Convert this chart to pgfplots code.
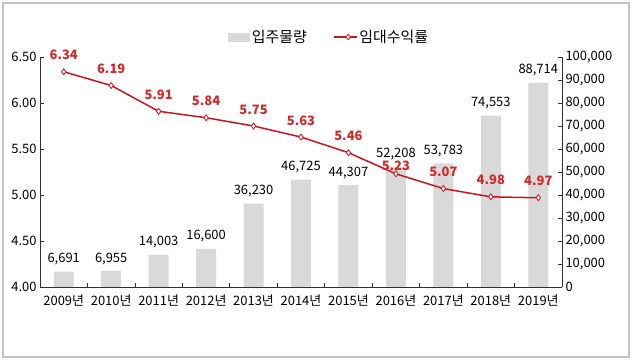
\documentclass[border=0pt]{standalone}
\usepackage{fontspec}
\setmainfont{Noto Sans CJK KR}
\usepackage{pgfplots}
\usepackage{pgfplotstable}
\pgfplotsset{compat=1.18}
\usetikzlibrary{shapes.geometric}
\definecolor{barg}{HTML}{D9D9D9}
\definecolor{linered}{HTML}{C8161E}
\definecolor{labred}{HTML}{D02A2A}
\definecolor{axgray}{HTML}{303030}
\definecolor{framegray}{HTML}{C4C4C4}
\pgfplotstableread{
x y dy
0 6.34 8
1 6.19 8
2 5.91 8
3 5.84 8
4 5.75 8
5 5.63 8
6 5.46 8
7 5.23 -1
8 5.07 8
9 4.98 8
10 4.97 8
}\ratedata
\pgfplotsset{base/.style={scale only axis, width=522bp, height=230bp,
  xmin=-0.5, xmax=10.5, at={(0,0)}, anchor=south west,
  axis line style={axgray, line width=0.75bp}, tick style={axgray, line width=0.75bp},
  tick align=inside, major tick length=4bp,
  /pgf/number format/assume math mode=true,
  font=\fontsize{13}{15}\selectfont,
  tick label style={font=\fontsize{13}{15}\selectfont}}}
\begin{document}
\begin{tikzpicture}[x=1bp,y=1bp]
\useasboundingbox (-40,-74) rectangle (592,287);
\draw[framegray, line width=1.2bp] (-37,-70) rectangle (589,284);
% bars (right axis)
\begin{axis}[base, ymin=0, ymax=100000, ytick={0,10000,...,100000},
  axis y line*=right, hide x axis, scaled y ticks=false,
  yticklabel style={/pgf/number format/.cd, fixed, precision=0, 1000 sep={,}}]
\addplot[ybar, bar width=0.42, fill=barg, draw=none,
  nodes near coords,
  nodes near coords style={black, font=\fontsize{13}{15}\selectfont, yshift=3bp,
    /pgf/number format/.cd, fixed, precision=0, 1000 sep={,}}]
coordinates {(0,6691) (1,6955) (2,14003) (3,16600) (4,36230) (5,46725)
 (6,44307) (7,52208) (8,53783) (9,74553) (10,88714)};
\end{axis}
% line (left axis)
\begin{axis}[base, ymin=4, ymax=6.5, ytick={4,4.5,...,6.5},
  axis y line*=left, axis x line*=bottom,
  xtick={0,...,10},
  xticklabels={2009년,2010년,2011년,2012년,2013년,2014년,2015년,2016년,2017년,2018년,2019년},
  major x tick style={draw=none},
  minor xtick={-0.5,0.5,...,10.5}, minor tick length=4bp,
  minor x tick style={axgray, line width=0.75bp},
  xticklabel style={yshift=-4bp},
  yticklabel style={/pgf/number format/.cd, fixed, fixed zerofill, precision=2},
  legend columns=2,
  legend style={at={(axis description cs:0.554,1.087)}, anchor=center,
    draw=none, fill=none, font=\fontsize{15}{17}\selectfont,
    /tikz/every even column/.append style={column sep=24bp}},
  legend cell align=left]
\addlegendimage{legend image code/.code={\fill[barg] (0bp,-4bp) rectangle (21bp,4bp);}}
\addlegendentry{입주물량}
\addplot[linered, line width=1.5bp, mark=diamond*,
  mark options={fill=white, draw=linered, line width=0.8bp, solid}, mark size=3bp,
  visualization depends on={\thisrow{dy} \as \dy},
  nodes near coords,
  nodes near coords style={labred, font=\fontsize{13}{15}\selectfont\bfseries, yshift=\dy bp,
    /pgf/number format/.cd, fixed, fixed zerofill, precision=2},
  legend image code/.code={\draw[linered, line width=1.5bp] (0bp,0bp) -- (23bp,0bp);
    \node[diamond, draw=linered, fill=white, line width=0.8bp, inner sep=0pt, minimum size=5.5bp] at (11.5bp,0bp) {};}]
table[x=x, y=y] {\ratedata};
\addlegendentry{임대수익률}
\end{axis}
\end{tikzpicture}
\end{document}
